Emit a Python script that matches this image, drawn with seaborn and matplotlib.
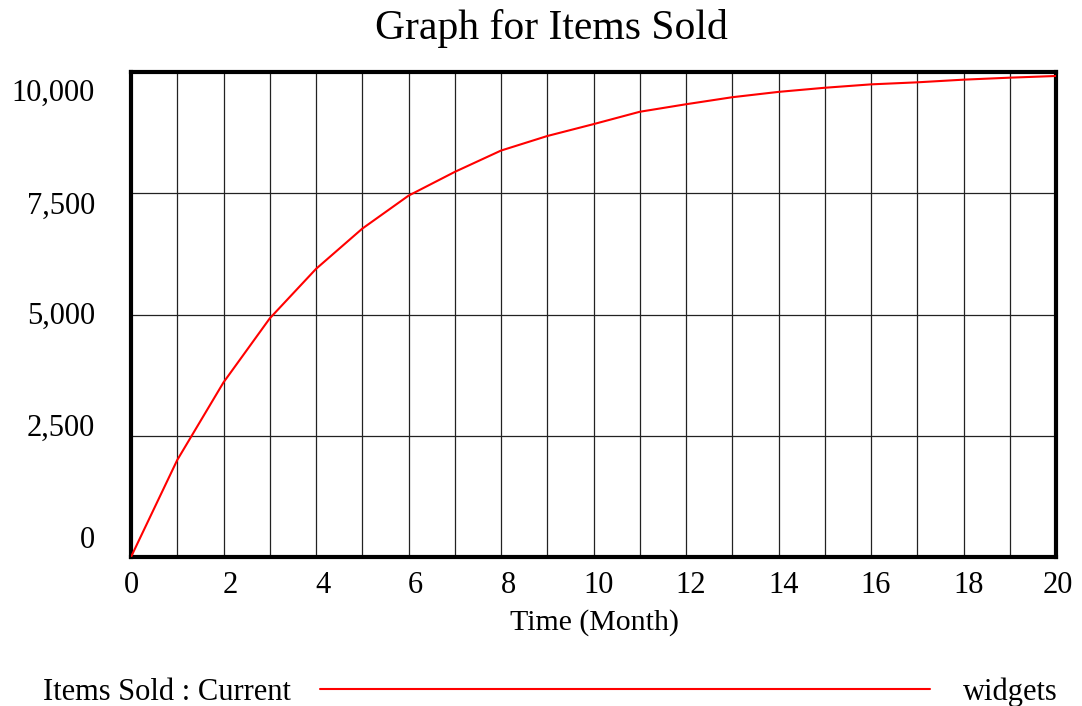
import matplotlib
matplotlib.use("Agg")
import matplotlib.pyplot as plt
import matplotlib.transforms as mtransforms
from matplotlib.lines import Line2D
import seaborn as sns
import pandas as pd

# ---- data ----
time_month = list(range(0, 21))
items_sold = [0, 2000, 3600, 4920, 5940, 6770, 7450, 7940, 8380, 8680,
              8925, 9180, 9335, 9480, 9590, 9675, 9745, 9787, 9842, 9883, 9918]
x_ticks = list(range(0, 21, 2))
y_ticks = [0, 2500, 5000, 7500, 10000]
y_tick_labels = ["0", "2,500", "5,000", "7,500", "10,000"]
title = "Graph for Items Sold"
x_label = "Time (Month)"
series_label = "Items Sold : Current"
units_label = "widgets"

df = pd.DataFrame({"Time": time_month, "Items Sold": items_sold})

sns.set_theme(style="white")
plt.rcParams["font.family"] = ["Liberation Serif", "DejaVu Serif"]
plt.rcParams["text.color"] = "black"

fig = plt.figure(figsize=(10.82, 7.06), dpi=100)
ax = fig.add_axes([131 / 1082, 149 / 706, (1056 - 131) / 1082, (557 - 72) / 706])

# grid
for xv in time_month:
    ax.axvline(xv, color="#222222", lw=0.9, zorder=1)
for yv in y_ticks:
    ax.axhline(yv, color="#222222", lw=0.9, zorder=1)

sns.lineplot(data=df, x="Time", y="Items Sold", color="#ff0000", lw=1.5, ax=ax, zorder=3)

ax.set_xlim(0, 20)
ax.set_ylim(0, 10000)
ax.set_xticks(x_ticks)
ax.set_xticklabels([str(v) for v in x_ticks])
ax.set_yticks(y_ticks)
ax.set_yticklabels(y_tick_labels)
ax.tick_params(axis="both", length=0, labelsize=22, colors="black")
ax.tick_params(axis="y", pad=26)
ax.tick_params(axis="x", pad=10)
ax.set_xlabel("")
ax.set_ylabel("")

for sp in ax.spines.values():
    sp.set_visible(True)
    sp.set_color("black")
    sp.set_linewidth(3)

# label offsets to mimic the reference placement (pixels)
y_offsets = [20, 11, 2, -10, -18]
for lab, off in zip(ax.get_yticklabels(), y_offsets):
    lab.set_transform(lab.get_transform() + mtransforms.ScaledTranslation(0, off / 100, fig.dpi_scale_trans))
x_offsets = [0, 7, 7, 7, 7, 5, 5, 5, 5, 5, 2]
for lab, off in zip(ax.get_xticklabels(), x_offsets):
    lab.set_transform(lab.get_transform() + mtransforms.ScaledTranslation(off / 100, 0, fig.dpi_scale_trans))

fig.text(551 / 1082, 1 - 29 / 706, title, ha="center", va="center", fontsize=30, color="black")
fig.text(595 / 1082, 1 - 623 / 706, x_label, ha="center", va="center", fontsize=21.5, color="black")

# legend row
ly = 1 - 689 / 706
ty = 1 - 692 / 706
fig.text(43 / 1082, ty, series_label, ha="left", va="center", fontsize=22, color="black")
fig.add_artist(Line2D([320 / 1082, 930 / 1082], [ly, ly], color="#ff0000", lw=1.5,
                      transform=fig.transFigure))
fig.text(1058 / 1082, ty, units_label, ha="right", va="center", fontsize=22, color="black")

fig.savefig("out.png", dpi=100)
